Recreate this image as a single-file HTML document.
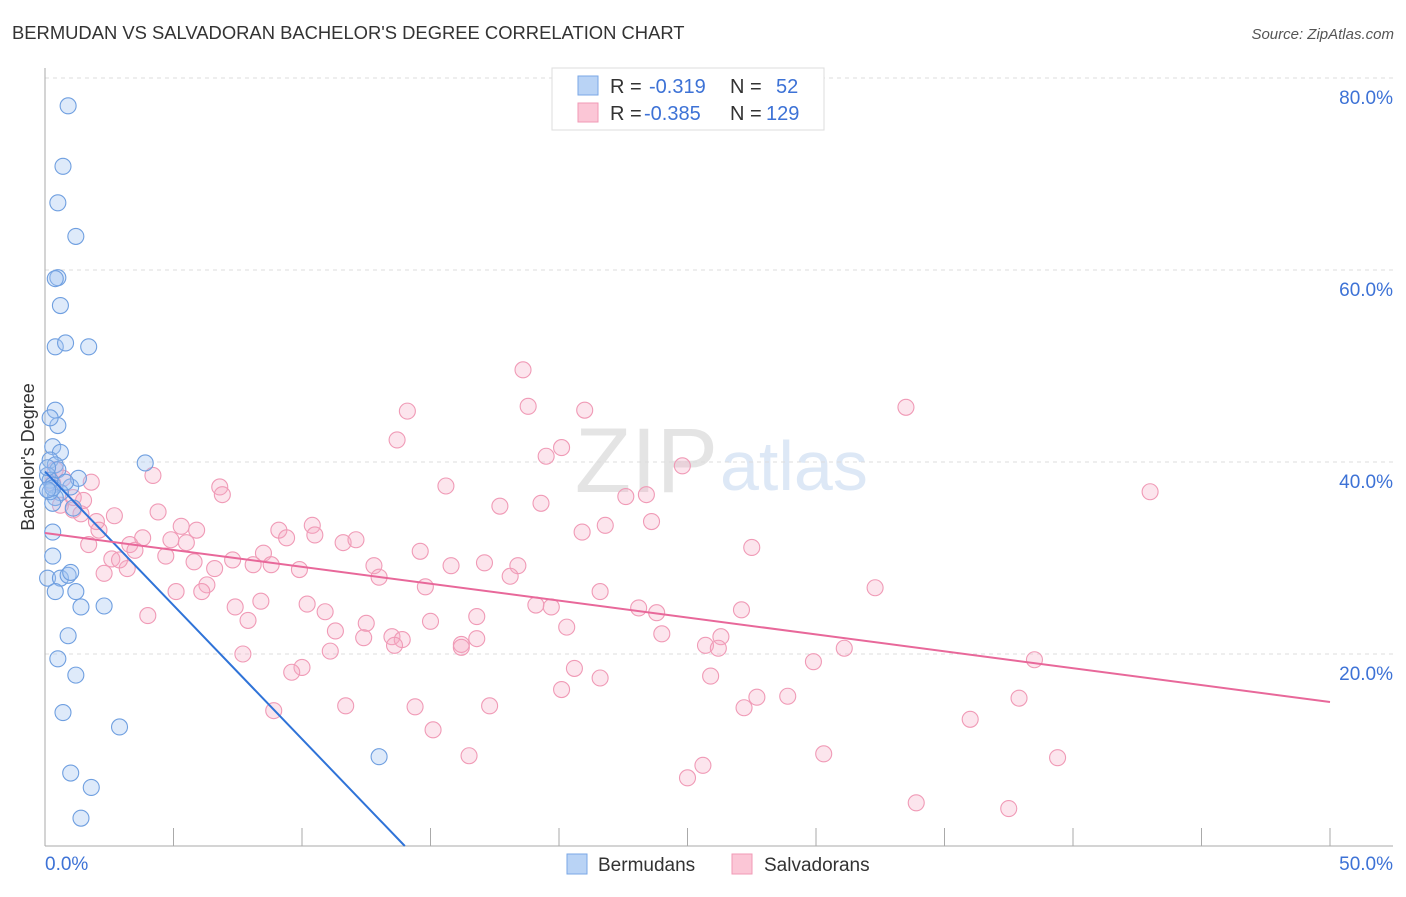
<!DOCTYPE html>
<html><head><meta charset="utf-8"><style>
body{margin:0;background:#fff;font-family:"Liberation Sans",sans-serif}
svg text{font-family:"Liberation Sans",sans-serif}
</style></head><body>
<svg id="chart" width="1406" height="892" xmlns="http://www.w3.org/2000/svg">
<text x="12" y="39" font-size="18.4" fill="#333">BERMUDAN VS SALVADORAN BACHELOR'S DEGREE CORRELATION CHART</text>
<text x="1394" y="39" font-size="15" fill="#555" text-anchor="end" font-style="italic">Source: ZipAtlas.com</text>
<text x="718" y="492" font-size="92" fill="#e4e4e4" text-anchor="end" font-family="Liberation Serif">ZIP</text>
<text x="720" y="490" font-size="70" fill="#dde8f6">atlas</text>
<g id="grid"></g>
<g id="axes"></g>
<g id="pts"></g>
<g id="trend"></g>
<text transform="translate(34,457) rotate(-90)" font-size="18" fill="#333" text-anchor="middle">Bachelor's Degree</text>
<g>
<rect x="552" y="68" width="272" height="62" fill="#fff" stroke="#ddd"/>
<rect x="578" y="76" width="20" height="19" fill="#b9d3f5" stroke="#7aa7e6"/>
<rect x="578" y="103" width="20" height="19" fill="#fbc6d6" stroke="#f09ab6"/>
<text x="610" y="93" font-size="20" fill="#333">R =</text><text x="649" y="93" font-size="20" fill="#3d72d6">-0.319</text>
<text x="730" y="93" font-size="20" fill="#333">N =</text><text x="776" y="93" font-size="20" fill="#3d72d6">52</text>
<text x="610" y="120" font-size="20" fill="#333">R =</text><text x="644" y="120" font-size="20" fill="#3d72d6">-0.385</text>
<text x="730" y="120" font-size="20" fill="#333">N =</text><text x="766" y="120" font-size="20" fill="#3d72d6">129</text>
</g>
<g>
<rect x="567" y="854" width="20" height="20" fill="#b9d3f5" stroke="#7aa7e6"/>
<text x="598" y="871" font-size="19" fill="#333">Bermudans</text>
<rect x="732" y="854" width="20" height="20" fill="#fbc6d6" stroke="#f09ab6"/>
<text x="764" y="871" font-size="19" fill="#333">Salvadorans</text>
</g>
</svg>
<script>
const xTicksPct=[0,5,10,15,20,25,30,35,40,45,50];
const yTicks=[20,40,60,80];
const xLabels=["0.0%","50.0%"];
const bermX=[0.9,0.7,0.5,1.2,0.5,0.4,0.6,0.4,0.8,1.7,0.4,0.5,0.2,0.3,0.6,3.9,0.2,0.4,0.5,0.1,0.2,0.3,1.0,1.3,0.6,0.4,0.3,1.1,0.3,0.3,0.1,0.6,0.9,1.0,0.4,1.2,1.4,2.3,0.9,0.5,1.2,0.7,2.9,13.0,1.0,1.8,1.4,0.1,0.2,0.3,0.8,0.1];
const bermY=[77.1,70.8,67.0,63.5,59.2,59.1,56.3,52.0,52.4,52.0,45.4,43.8,44.6,41.6,41.0,39.9,40.2,39.7,39.2,38.6,38.1,37.6,37.4,38.3,36.8,36.3,35.7,35.2,32.7,30.2,27.9,27.9,28.2,28.5,26.5,26.5,24.9,25.0,21.9,19.5,17.8,13.9,12.4,9.3,7.6,6.1,2.9,39.4,36.9,37.3,37.9,37.1];
const salvX=[18.6,18.8,21.0,14.1,33.5,13.7,20.1,19.5,24.8,4.2,1.8,43.0,6.8,6.9,15.6,23.4,22.6,19.3,17.7,4.4,2.7,1.1,0.6,2.0,5.3,5.9,9.1,10.4,10.5,23.6,21.8,20.9,9.4,3.8,4.9,5.5,11.6,12.1,3.3,1.7,27.5,14.6,8.5,3.5,4.7,2.6,5.8,7.3,8.1,8.8,9.9,12.8,15.8,17.1,18.4,13.0,18.1,2.3,3.2,6.6,6.3,5.1,6.1,14.8,32.3,21.6,8.4,10.2,7.4,10.9,19.1,19.7,23.1,23.8,27.1,4.0,7.9,15.0,16.8,12.5,20.3,11.3,12.4,13.5,13.9,13.6,16.2,16.8,16.2,26.3,24.0,25.7,26.2,31.1,7.7,11.1,29.9,38.5,20.6,10.0,9.6,25.9,21.6,20.1,27.7,28.9,37.9,11.7,14.4,17.3,8.9,27.2,36.0,15.1,30.3,16.5,39.4,25.6,25.0,33.9,37.5,0.7,0.4,1.1,1.4,2.1,2.9,0.3,1.5];
const salvY=[49.6,45.8,45.4,45.3,45.7,42.3,41.5,40.6,39.6,38.6,37.9,36.9,37.4,36.6,37.5,36.6,36.4,35.7,35.4,34.8,34.4,35.0,35.5,33.8,33.3,32.9,32.9,33.4,32.4,33.8,33.4,32.7,32.1,32.1,31.9,31.6,31.6,31.9,31.4,31.4,31.1,30.7,30.5,30.8,30.2,29.9,29.6,29.8,29.3,29.3,28.8,29.2,29.2,29.5,29.2,28.0,28.1,28.4,28.9,28.9,27.2,26.5,26.5,27.0,26.9,26.5,25.5,25.2,24.9,24.4,25.1,24.9,24.8,24.3,24.6,24.0,23.5,23.4,23.9,23.2,22.8,22.4,21.7,21.8,21.5,20.9,21.0,21.6,20.7,21.8,22.1,20.9,20.6,20.6,20.0,20.3,19.2,19.4,18.5,18.6,18.1,17.7,17.5,16.3,15.5,15.6,15.4,14.6,14.5,14.6,14.1,14.4,13.2,12.1,9.6,9.4,9.2,8.4,7.1,4.5,3.9,38.3,39.2,36.3,34.6,32.9,29.8,37.8,36.0];
const bermTrend=[39.0,0,14.0];   // intercept %, end y %, end x %
const salvTrend=[32.6,15.0,50];
const NS="http://www.w3.org/2000/svg";
const X=v=>45+v*25.7, Y=v=>846-v*9.6;
function mk(p,t,a){const e=document.createElementNS(NS,t);for(const k in a)e.setAttribute(k,a[k]);document.getElementById(p).appendChild(e);return e;}
yTicks.forEach(t=>{
  const l=mk('grid','line',{x1:45,x2:1393,y1:Y(t),y2:Y(t),stroke:'#ddd','stroke-dasharray':'4,4'});
  
  
  const tx=mk('grid','text',{x:1393,y:Y(t)+26,'font-size':19,fill:'#3d72d6','text-anchor':'end'});
  tx.textContent=t.toFixed(1)+'%';
  
  
});
const ax=mk('axes','line',{x1:45,x2:45,y1:68,y2:846,stroke:'#aaa'});


const bx=mk('axes','line',{x1:45,x2:1393,y1:846,y2:846,stroke:'#aaa'});


xTicksPct.forEach(t=>{
  const l=mk('axes','line',{x1:X(t),x2:X(t),y1:828,y2:846,stroke:'#aaa'});
  
  
});
[[0,'start',45],[50,'end',1393]].forEach((d,i)=>{
  const tx=mk('axes','text',{x:d[2],y:870,'font-size':19,fill:'#3d72d6','text-anchor':d[1]});
  tx.textContent=xLabels[i];
  
  
});
salvX.forEach((x,i)=>{
  const c=mk('pts','circle',{cx:X(x),cy:Y(salvY[i]),r:8,fill:'rgba(246,170,196,0.3)',stroke:'#f09ab6','stroke-width':1.1});
  
  
});
bermX.forEach((x,i)=>{
  const c=mk('pts','circle',{cx:X(x),cy:Y(bermY[i]),r:8,fill:'rgba(160,196,240,0.35)',stroke:'#6f9fe0','stroke-width':1.1});
  
  
});
const bl=mk('trend','line',{x1:X(0),y1:Y(bermTrend[0]),x2:X(bermTrend[2]),y2:Y(bermTrend[1]),stroke:'#2f73d8','stroke-width':2});


const sl=mk('trend','line',{x1:X(0),y1:Y(salvTrend[0]),x2:X(salvTrend[2]),y2:Y(salvTrend[1]),stroke:'#e8689a','stroke-width':2});


</script>
</body></html>
